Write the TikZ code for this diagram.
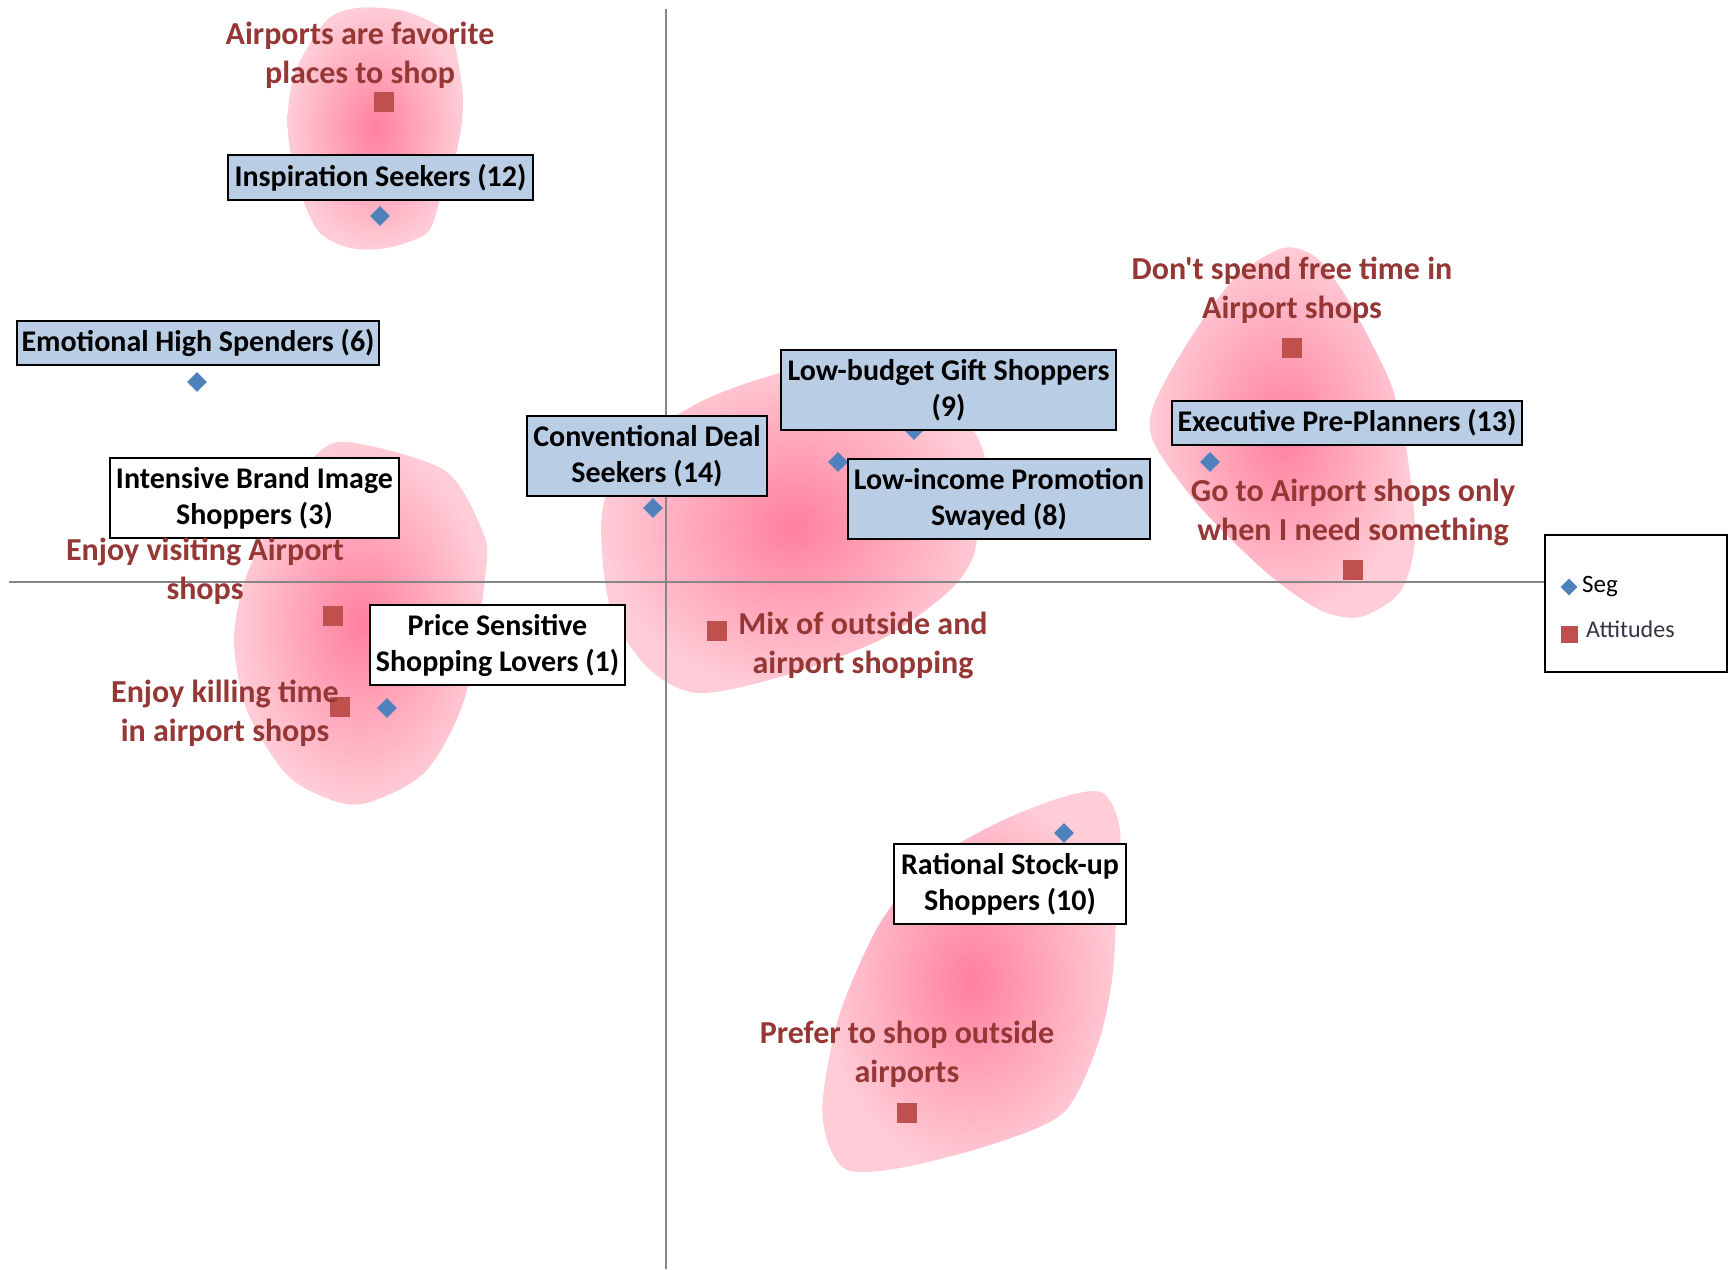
\documentclass[tikz,border=0pt]{standalone}
\usepackage{fontspec}
\setmainfont{Carlito}[Ligatures=TeXOff]
\usetikzlibrary{shapes.geometric}
\definecolor{segblue}{HTML}{4F81BD}
\definecolor{attred}{HTML}{C0504D}
\definecolor{lblred}{HTML}{953735}
\definecolor{boxblue}{HTML}{B9CDE5}
\definecolor{blobin}{RGB}{255,128,158}
\definecolor{blobout}{RGB}{255,205,215}
\definecolor{axisgray}{HTML}{868686}
\definecolor{legtext}{HTML}{333344}
\tikzset{
  blob/.style={inner color=blobin, outer color=blobout},
  segbox/.style={draw=black, line width=1.8pt, fill=boxblue, inner sep=0pt, align=center,
    font=\fontsize{30}{36}\selectfont\bfseries},
  whitebox/.style={segbox, fill=white},
  attlbl/.style={text=lblred, align=center, inner sep=0pt,
    font=\fontsize{32}{39}\selectfont\bfseries},
  segpt/.style={diamond, fill=segblue, inner sep=0pt, minimum width=20pt, minimum height=20pt},
  attpt/.style={rectangle, fill=attred, inner sep=0pt, minimum size=20pt},
  axisline/.style={draw=axisgray, line width=1.6pt},
}
\begin{document}
\begin{tikzpicture}[x=1pt, y=-1pt]
\useasboundingbox (0,0) rectangle (1729,1269);
% blobs
\shade[blob] plot[smooth cycle] coordinates {(357,8) (400,10) (433,23) (453,40) (463,100) (457,150) (440,200) (427,233) (387,248) (350,248) (320,233) (303,200) (290,150) (288,110) (297,67) (327,20)};
\shade[blob] plot[smooth cycle] coordinates {(348,442) (444,470) (482,530) (486,570) (465,697) (427,770) (376,800) (341,803) (289,777) (248,713) (234,643) (245,580) (279,507) (314,457)};
\shade[blob] plot[smooth cycle] coordinates {(700,402) (780,373) (860,360) (940,390) (983,450) (980,507) (973,557) (947,593) (880,640) (780,677) (697,693) (647,667) (610,607) (602,513) (630,450)};
\shade[blob] plot[smooth cycle] coordinates {(1283,248) (1317,258) (1345,295) (1370,340) (1393,390) (1408,460) (1415,540) (1400,592) (1360,617) (1320,610) (1267,573) (1200,507) (1155,445) (1152,410) (1183,350) (1233,280)};
\shade[blob] plot[smooth cycle] coordinates {(1103,793) (1120,830) (1117,900) (1112,980) (1097,1047) (1063,1113) (990,1145) (900,1168) (847,1170) (827,1140) (823,1097) (840,1013) (880,923) (930,863) (997,823) (1063,797)};
% legend box
\node[draw=black, line width=1.8pt, fill=white, minimum width=182pt, minimum height=137pt, inner sep=0pt] (legend) at (1636,603.5) {};
% axes
\coordinate (vtop) at (666,9);
\coordinate (vbot) at (666,1269);
\coordinate (hleft) at (9,582);
\draw[axisline] (vtop) -- (vbot);
\draw[axisline] (hleft) -- (legend.west |- hleft);
% segment points
\node[segpt] (p12) at (380,216) {};
\node[segpt] (p6) at (197,382) {};
\node[segpt] (p1) at (387,708) {};
\node[segpt] (p14) at (653,508) {};
\node[segpt] (p8) at (838,462) {};
\node[segpt] (p9) at (914,430) {};
\node[segpt] (p13) at (1210,462) {};
\node[segpt] (p10) at (1064,833) {};
% attitude points
\node[attpt] (a1) at (384,102) {};
\node[attpt] (a2) at (1292,348) {};
\node[attpt] (a3) at (1353,570) {};
\node[attpt] (a4) at (333,616) {};
\node[attpt] (a5) at (340,707) {};
\node[attpt] (a6) at (717,631) {};
\node[attpt] (a7) at (907,1113) {};
% segment boxes
\node[segbox, minimum width=305pt, minimum height=45pt] (b12) at (380.5,177.5) {Inspiration Seekers (12)};
\node[segbox, minimum width=362pt, minimum height=44pt] (b6) at (198,343) {Emotional High Spenders (6)};
\node[whitebox, minimum width=289pt, minimum height=80pt] (b3) at (254.5,498) {Intensive Brand Image\\Shoppers (3)};
\node[whitebox, minimum width=255pt, minimum height=80pt] (b1) at (497.5,645) {Price Sensitive\\Shopping Lovers (1)};
\node[segbox, minimum width=240pt, minimum height=80pt] (b14) at (647,456) {Conventional Deal\\Seekers (14)};
\node[segbox, minimum width=335pt, minimum height=80pt] (b9) at (948.5,390) {Low-budget Gift Shoppers\\(9)};
\node[segbox, minimum width=302pt, minimum height=80pt] (b8) at (999,499) {Low-income Promotion\\Swayed (8)};
\node[segbox, minimum width=350pt, minimum height=44pt] (b13) at (1347,423) {Executive Pre-Planners (13)};
\node[whitebox, minimum width=232pt, minimum height=80pt] (b10) at (1010,884) {Rational Stock-up\\Shoppers (10)};
% attitude labels
\node[attlbl] (t1) at (360,55) {Airports are favorite\\places to shop};
\node[attlbl] (t2) at (1292,290) {Don't spend free time in\\Airport shops};
\node[attlbl] (t3) at (1353,512) {Go to Airport shops only\\when I need something};
\node[attlbl] (t4) at (205,571) {Enjoy visiting Airport\\shops};
\node[attlbl] (t5) at (225,713) {Enjoy killing time\\in airport shops};
\node[attlbl] (t6) at (863,645) {Mix of outside and\\airport shopping};
\node[attlbl] (t7) at (907,1054) {Prefer to shop outside\\airports};
% legend items
\node[diamond, fill=segblue, inner sep=0pt, minimum width=17pt, minimum height=17pt] (lseg) at (1569,587) {};
\node[anchor=west, inner sep=0pt, font=\fontsize{25}{29}\selectfont] (lsegt) at (1582,587) {Seg};
\node[attpt, minimum size=17pt] (latt) at (1569,634) {};
\node[anchor=west, inner sep=0pt, text=legtext, font=\fontsize{24}{28}\selectfont] (lattt) at (1586,629) {Attitudes};
\end{tikzpicture}
\end{document}
